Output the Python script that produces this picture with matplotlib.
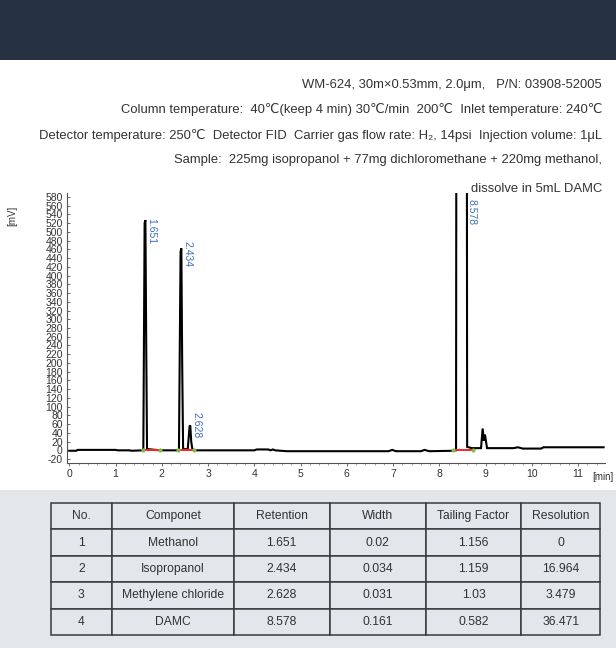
import matplotlib
matplotlib.use("Agg")
import matplotlib.pyplot as plt
from matplotlib.patches import Rectangle

FONT = ["Liberation Sans", "DejaVu Sans", "Noto Sans CJK SC"]
plt.rcParams["font.family"] = FONT

# ---- data ----
header_lines = [
    "WM-624, 30m\u00d70.53mm, 2.0\u03bcm,   P/N: 03908-52005",
    "Column temperature:  40\u2103(keep 4 min) 30\u2103/min  200\u2103  Inlet temperature: 240\u2103",
    "Detector temperature: 250\u2103  Detector FID  Carrier gas flow rate: H\u2082, 14psi  Injection volume: 1\u03bcL",
    "Sample:  225mg isopropanol + 77mg dichloromethane + 220mg methanol,",
    "dissolve in 5mL DAMC",
]

trace_time = [0.0, 0.15, 0.18, 1.00, 1.05, 1.30, 1.35, 1.60, 1.628, 1.645, 1.662, 1.68, 1.95,
              2.37, 2.405, 2.422, 2.44, 2.46, 2.56, 2.600, 2.615, 2.635, 2.66, 2.70,
              4.00, 4.05, 4.30, 4.35, 4.40, 4.45, 4.70, 6.90, 6.98, 7.06, 7.60, 7.68, 7.78, 8.30,
              8.36, 8.385, 8.575, 8.60, 8.70, 8.90, 8.935, 8.96, 8.985, 9.03, 9.60, 9.70, 9.80,
              10.20, 10.25, 11.55]
trace_mv = [-1, -1, 1, 1, 0, 0, -1, 0, 520, 527, 250, 3, 0,
            0, 455, 462, 200, 3, 3, 55, 57, 20, 3, 0,
            0, 2, 2, 0, 2, 0, -2, -2, 1, -2, -2, 1, -2, -1,
            0, 3000, 3000, 8, 5, 5, 50, 22, 36, 5, 5, 7, 4,
            4, 7, 7]

peak_rt = [1.651, 2.434, 2.628, 8.578]
peak_label_y = [532, 478, 88, 576]
baseline_segs = [(1.60, 1.95), (2.36, 2.70), (8.30, 8.72)]

table_cols = ["No.", "Componet", "Retention", "Width", "Tailing Factor", "Resolution"]
table_no = ["1", "2", "3", "4"]
table_comp = ["Methanol", "Isopropanol", "Methylene chloride", "DAMC"]
table_ret = ["1.651", "2.434", "2.628", "8.578"]
table_width = ["0.02", "0.034", "0.031", "0.161"]
table_tail = ["1.156", "1.159", "1.03", "0.582"]
table_res = ["0", "16.964", "3.479", "36.471"]

y_ticks = list(range(-20, 600, 20))
x_ticks = list(range(0, 12))

# ---- figure ----
W, H = 616, 648
fig = plt.figure(figsize=(W / 100, H / 100), dpi=100)
fig.patch.set_facecolor("white")

def fx(px):
    return px / W

def fy(py):
    return 1 - py / H

fig.patches.append(Rectangle((0, fy(60)), 1, 60 / H, transform=fig.transFigure,
                             facecolor="#263243", edgecolor="none", zorder=-5))
fig.patches.append(Rectangle((0, 0), 1, fy(490), transform=fig.transFigure,
                             facecolor="#e3e6ea", edgecolor="none", zorder=-5))

# header text
header_y = [85, 110, 135, 160, 189]
for line, yy in zip(header_lines, header_y):
    fig.text(fx(602), fy(yy), line, ha="right", va="center", fontsize=9.4,
             color="#333333", family=FONT)

# chromatogram axes
ax = fig.add_axes([fx(67), fy(463), fx(605) - fx(67), fy(193) - fy(463)])
ax.patch.set_alpha(0)
ax.set_xlim(-0.05, 11.58)
ax.set_ylim(-29, 589)
ax.plot(trace_time, trace_mv, color="black", lw=1.5, solid_joinstyle="miter", zorder=3)
for a, b in baseline_segs:
    ax.plot([a, b], [0, 0], color="#ff2020", lw=1.4, zorder=4)
    ax.plot([a, b], [0, 0], ls="none", marker="o", ms=2, color="#7cc043", zorder=5)
for rt, yy in zip(peak_rt, peak_label_y):
    ax.text(rt + 0.01, yy, f"{rt:.3f}", rotation=270, ha="left", va="top",
            fontsize=7.5, color="#3b6fc4", zorder=6)

for s in ["top", "right"]:
    ax.spines[s].set_visible(False)
for s in ["left", "bottom"]:
    ax.spines[s].set_color("#555555")
    ax.spines[s].set_linewidth(0.8)
ax.set_yticks(y_ticks)
ax.set_yticklabels([str(v) for v in y_ticks])
ax.set_xticks(x_ticks)
ax.set_xticklabels([str(v) for v in x_ticks])
ax.set_xticks([i / 5 for i in range(0, 58)], minor=True)
ax.tick_params(axis="y", direction="in", length=2, width=0.6, labelsize=7.5, pad=3,
               colors="#555555", labelcolor="#333333")
ax.tick_params(axis="x", which="major", direction="out", length=2, width=0.6,
               labelsize=7.5, pad=2, colors="#555555", labelcolor="#333333")
ax.tick_params(axis="x", which="minor", direction="out", length=1.5, width=0.5,
               colors="#777777")
fig.text(fx(12), fy(216), "[mV]", rotation=90, ha="center", va="center",
         fontsize=7, color="#333333")
fig.text(fx(603), fy(477), "[min]", ha="center", va="center", fontsize=7,
         color="#333333")

# table
tax = fig.add_axes([fx(51), fy(635), fx(600) - fx(51), fy(503) - fy(635)])
tax.axis("off")
cells = [list(r) for r in zip(table_no, table_comp, table_ret, table_width,
                              table_tail, table_res)]
col_w = [60.6, 122, 95.4, 96, 95.5, 78.5]
tot = sum(col_w)
tbl = tax.table(cellText=cells, colLabels=table_cols, cellLoc="center",
                colWidths=[c / tot for c in col_w], bbox=[0, 0, 1, 1])
tbl.auto_set_font_size(False)
for (r, c), cell in tbl.get_celld().items():
    cell.set_facecolor("#e3e6ea")
    cell.set_edgecolor("#3a3a3a")
    cell.set_linewidth(1.1)
    cell.get_text().set_fontsize(8.7)
    cell.get_text().set_color("#333333")

fig.savefig("out.png", dpi=100)
